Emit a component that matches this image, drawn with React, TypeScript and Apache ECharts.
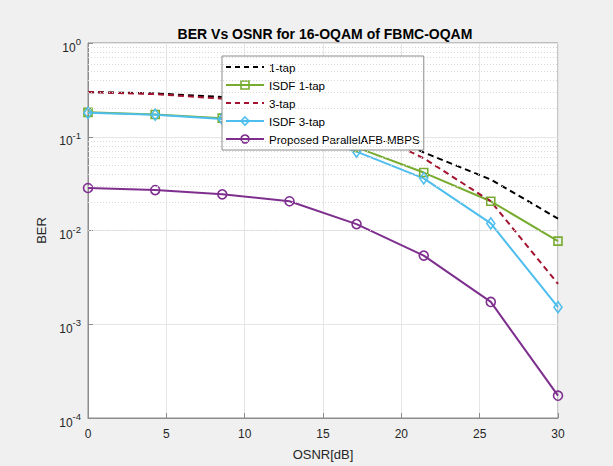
import React, { useEffect, useRef } from "react";
import * as echarts from "echarts";

const osnr = [0, 4.29, 8.57, 12.86, 17.14, 21.43, 25.71, 30];
const tap1 = [0.3, 0.29, 0.265, 0.225, 0.15, 0.068, 0.035, 0.0134];
const isdf1 = [0.182, 0.173, 0.158, 0.125, 0.077, 0.0415, 0.0205, 0.0077];
const tap3 = [0.3, 0.285, 0.255, 0.21, 0.13, 0.059, 0.0205, 0.0027];
const isdf3 = [0.18, 0.172, 0.155, 0.12, 0.0695, 0.036, 0.0119, 0.00152];
const proposed = [0.0284, 0.027, 0.0243, 0.0205, 0.0117, 0.0054, 0.00173, 0.000173];

const seriesNames = ["1-tap", "ISDF 1-tap", "3-tap", "ISDF 3-tap", "Proposed ParallelAFB-MBPS"];
const minorTickValues = [
  2e-4, 3e-4, 4e-4, 5e-4, 6e-4, 7e-4, 8e-4, 9e-4,
  2e-3, 3e-3, 4e-3, 5e-3, 6e-3, 7e-3, 8e-3, 9e-3,
  2e-2, 3e-2, 4e-2, 5e-2, 6e-2, 7e-2, 8e-2, 9e-2,
  0.2, 0.3, 0.4, 0.5, 0.6, 0.7, 0.8, 0.9,
];

const FONT = "'Liberation Sans', Arial, sans-serif";
const TXT = "#262626";
const COLORS = ["#000000", "#77ac30", "#a2142f", "#4dbeee", "#7e2f8e"];
const CLEAR = "rgba(0,0,0,0)";

const pair = (ys: number[]) => osnr.map((x, i) => [x, ys[i]]);

export default function App() {
  const ref = useRef<HTMLDivElement>(null);
  useEffect(() => {
    if (!ref.current) return;
    const chart = echarts.init(ref.current, undefined, { renderer: "svg" });
    const hollow = (c: string) => ({ color: CLEAR, borderColor: c, borderWidth: 1.6 });
    const lineSeries = (name: string, ys: number[], color: string, dashed: boolean, symbol: string, size: any) => ({
      type: "line",
      name,
      data: pair(ys),
      symbol,
      symbolSize: size,
      showSymbol: symbol !== "none",
      lineStyle: { color, width: 2, type: dashed ? [6, 4] : "solid" },
      itemStyle: hollow(color),
      z: 3,
    });
    const legendItem = (i: number, dashed: boolean) => ({
      name: seriesNames[i],
      itemStyle: dashed ? { color: CLEAR, borderColor: CLEAR, borderWidth: 0 } : hollow(COLORS[i]),
      lineStyle: { color: COLORS[i], width: 2, type: dashed ? [5, 4] : "solid" },
    });
    chart.setOption({
      animation: false,
      backgroundColor: "#f0f0f0",
      textStyle: { fontFamily: FONT },
      title: {
        text: "BER Vs OSNR for 16-OQAM of FBMC-OQAM",
        left: 320,
        top: 22,
        textAlign: "center",
        textStyle: { fontSize: 14, fontWeight: "bold", color: "#000", fontFamily: FONT },
      },
      grid: {
        left: 88,
        right: 55,
        top: 43,
        bottom: 43,
        show: true,
        backgroundColor: "#ffffff",
        borderColor: "#8c8c8c",
        borderWidth: 1,
      },
      legend: {
        orient: "vertical",
        left: 222,
        top: 56,
        padding: [5, 4, 5, 3],
        itemWidth: 38,
        itemHeight: 10,
        itemGap: 6,
        backgroundColor: "#ffffff",
        borderColor: "#8c8c8c",
        borderWidth: 1,
        textStyle: { fontSize: 11.6, color: "#000", fontFamily: FONT },
        data: [
          legendItem(0, true),
          legendItem(1, false),
          legendItem(2, true),
          legendItem(3, false),
          legendItem(4, false),
        ],
      },
      xAxis: {
        type: "value",
        min: 0,
        max: 30,
        interval: 5,
        name: "OSNR[dB]",
        nameLocation: "middle",
        nameGap: 30,
        nameTextStyle: { fontSize: 13, color: TXT, fontFamily: FONT },
        axisLine: { lineStyle: { color: "#8c8c8c" } },
        axisTick: { inside: true, length: 5, lineStyle: { color: "#8c8c8c" } },
        axisLabel: { fontSize: 12, color: TXT, margin: 10, fontFamily: FONT },
        splitLine: { show: true, lineStyle: { color: "#e6e6e6", width: 1 } },
      },
      yAxis: {
        type: "log",
        logBase: 10,
        min: 1e-4,
        max: 1,
        name: "BER",
        nameLocation: "middle",
        nameGap: 38,
        nameRotate: 90,
        nameTextStyle: { fontSize: 13, color: TXT, fontFamily: FONT },
        axisLine: { show: true, lineStyle: { color: "#8c8c8c" } },
        axisTick: { show: true, inside: true, length: 5, lineStyle: { color: "#8c8c8c" } },
        axisLabel: {
          margin: 7,
          padding: [4, 0, 0, 0],
          formatter: (v: number) => `{b|10}{s|${Math.round(Math.log10(v))}}`,
          rich: {
            b: { fontSize: 12, color: TXT, verticalAlign: "bottom", fontFamily: FONT },
            s: { fontSize: 9.5, color: TXT, verticalAlign: "top", padding: [0, 0, 7, 0], fontFamily: FONT },
          },
        },
        splitLine: { show: true, lineStyle: { color: "#e6e6e6", width: 1 } },
      },
      series: [
        {
          type: "line",
          name: "minor",
          data: [],
          z: 1,
          silent: true,
          markLine: {
            silent: true,
            symbol: "none",
            label: { show: false },
            lineStyle: { color: "#d6d6d6", width: 1, type: [1, 2] },
            data: minorTickValues.map((v) => ({ yAxis: v })),
          },
        },
        lineSeries(seriesNames[0], tap1, COLORS[0], true, "none", 0),
        lineSeries(seriesNames[1], isdf1, COLORS[1], false, "rect", 8),
        lineSeries(seriesNames[2], tap3, COLORS[2], true, "none", 0),
        lineSeries(seriesNames[3], isdf3, COLORS[3], false, "diamond", [8, 11]),
        lineSeries(seriesNames[4], proposed, COLORS[4], false, "circle", 9),
      ],
    });
    return () => chart.dispose();
  }, []);
  return (
    <div
      ref={ref}
      style={{ position: "fixed", left: 0, top: 0, width: 613, height: 466, background: "#f0f0f0" }}
    />
  );
}
